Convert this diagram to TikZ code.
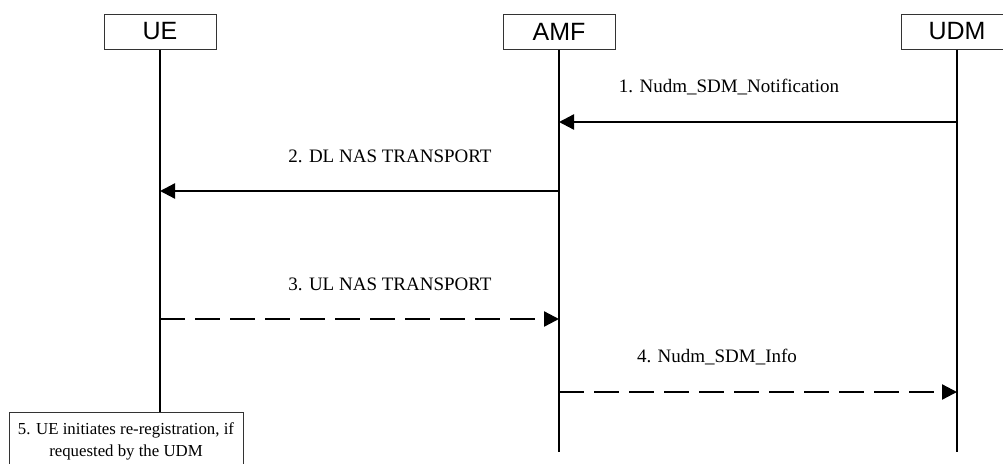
\documentclass[tikz,border=0pt]{standalone}
\usepackage{fontspec}
\setmainfont{Liberation Serif}
\newfontfamily\entfont{Liberation Sans}
\usetikzlibrary{positioning,arrows.meta,calc}
\tikzset{
  sqent/.style={draw=black!80, line width=1pt, minimum width=112pt, minimum height=35pt,
                inner sep=0pt, font=\entfont\fontsize{25}{28}\selectfont},
  sqnote/.style={draw=black!80, line width=1pt, minimum width=234pt, align=center,
                 inner xsep=6pt, inner ysep=10pt, text depth=14pt, font=\fontsize{16.8}{22}\selectfont},
  sqlife/.style={line width=2pt},
  sqmsg/.style={line width=2.3pt, -{Triangle[length=15pt,width=15pt]}},
  sqdash/.style={sqmsg, dash pattern=on 25pt off 10pt},
  sqlab/.style={font=\fontsize{19}{22}\selectfont},
}

\begin{document}
\begin{tikzpicture}[x=1pt,y=-1pt]
  \clip (0,0) rectangle (1003,463);
  \node[sqent] (UE) at (160,31.5) {UE};
  \node[sqent] (AMF) at (559,31.5) {AMF};
  \node[sqent] (UDM) at (957,31.5) {UDM};
  \node[sqnote, anchor=north] (N5) at (126,412) {5. UE initiates re-registration, if\\requested by the UDM};
  \coordinate (AMFend) at (AMF.south |- 0,452);
  \coordinate (UDMend) at (UDM.south |- 0,452);
  % lifelines
  \draw[sqlife] (UE.south) -- (UE.south |- N5.north);
  \draw[sqlife] (AMF.south) -- (AMFend);
  \draw[sqlife] (UDM.south) -- (UDMend);
  % messages
  \draw[sqmsg] (UDM.south |- 0,122) -- (AMF.south |- 0,122);
  \node[sqlab] (L1) at (729,87) {1. Nudm\_SDM\_Notification};
  \draw[sqmsg] (AMF.south |- 0,191) -- (UE.south |- 0,191);
  \node[sqlab] (L2) at (390,156) {2. DL NAS TRANSPORT};
  \draw[sqdash] (UE.south |- 0,319) -- (AMF.south |- 0,319);
  \node[sqlab] (L3) at (390,284) {3. UL NAS TRANSPORT};
  \draw[sqdash] (AMF.south |- 0,392) -- (UDM.south |- 0,392);
  \node[sqlab] (L4) at (717,357) {4. Nudm\_SDM\_Info};
\end{tikzpicture}
\end{document}
